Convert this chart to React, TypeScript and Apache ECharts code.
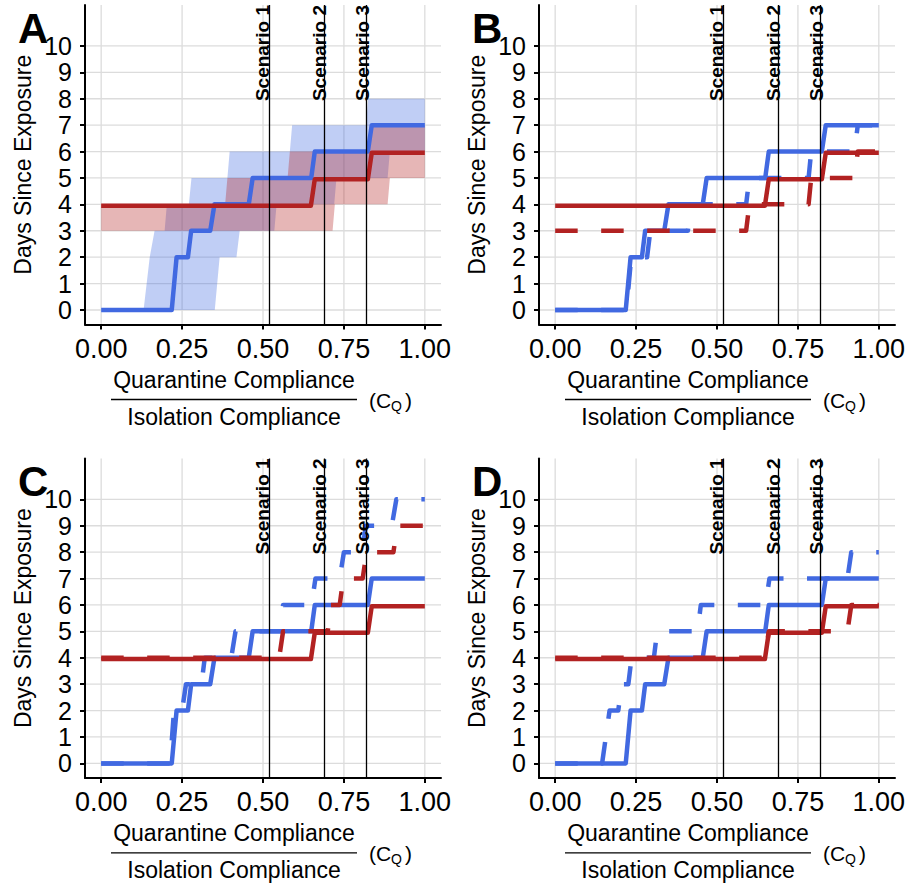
import React, { useEffect, useRef } from 'react';
import * as echarts from 'echarts';

// ---------- data ----------
const xTicks = [0, 0.25, 0.5, 0.75, 1];
const yTicks = [0, 1, 2, 3, 4, 5, 6, 7, 8, 9, 10];
const scenarioX = [0.516, 0.691, 0.825];
const scenarioLabels = ['Scenario 1', 'Scenario 2', 'Scenario 3'];
const panelLetters = ['A', 'B', 'C', 'D'];

// solid lines (same model in every panel)
const blueSolid = [
  [0, 0], [0.218, 0], [0.233, 2], [0.268, 2], [0.278, 3], [0.337, 3], [0.35, 4],
  [0.456, 4], [0.468, 5], [0.649, 5], [0.66, 6], [0.824, 6], [0.836, 7], [1, 7],
];
const redSolid = [
  [0, 3.95], [0.648, 3.95], [0.66, 4.95], [0.824, 4.95], [0.836, 5.95], [1, 5.95],
];

// panel A ribbons
const blueUpperA = [
  [0, 0], [0.131, 0], [0.15, 2], [0.165, 3], [0.196, 3], [0.203, 4], [0.271, 4], [0.279, 5],
  [0.39, 5], [0.397, 6], [0.583, 6], [0.59, 7], [0.818, 7], [0.825, 8], [1, 8],
];
const blueLowerA = [
  [0, 0], [0.351, 0], [0.366, 2], [0.418, 2], [0.428, 3], [0.535, 3], [0.542, 4],
  [0.72, 4], [0.727, 5], [0.885, 5], [0.892, 6], [1, 6],
];
const redUpperA = [
  [0, 4], [0.383, 4], [0.39, 5], [0.576, 5], [0.583, 6], [0.823, 6], [0.83, 7], [1, 7],
];
const redLowerA = [
  [0, 3], [0.715, 3], [0.722, 4], [0.885, 4], [0.892, 5], [1, 5],
];

// panel B dashed
const blueDashedB = [
  [0, 0], [0.22, 0], [0.235, 2], [0.284, 2], [0.294, 3], [0.41, 3], [0.42, 4], [0.59, 4],
  [0.6, 5], [0.783, 5], [0.791, 6], [0.925, 6], [0.935, 7], [1, 7],
];
const redDashedB = [
  [0, 3], [0.59, 3], [0.6, 4], [0.783, 4], [0.791, 5], [0.925, 5], [0.935, 6], [1, 6],
];

// panel C dashed
const blueDashedC = [
  [0, 0], [0.213, 0], [0.225, 2], [0.25, 2], [0.262, 3], [0.31, 3], [0.32, 4], [0.402, 4],
  [0.415, 5], [0.553, 5], [0.562, 6], [0.65, 6], [0.662, 7], [0.737, 7], [0.75, 8],
  [0.806, 8], [0.818, 9], [0.898, 9], [0.912, 10], [1, 10],
];
const redDashedC = [
  [0, 4], [0.55, 4], [0.562, 5], [0.7, 5], [0.71, 6], [0.737, 6], [0.748, 7], [0.808, 7],
  [0.82, 8], [0.903, 8], [0.915, 9], [1, 9],
];

// panel D dashed
const blueDashedD = [
  [0, 0], [0.145, 0], [0.168, 2], [0.195, 2], [0.205, 3], [0.226, 3], [0.236, 4], [0.305, 4],
  [0.315, 5], [0.44, 5], [0.45, 6], [0.65, 6], [0.662, 7], [0.903, 7], [0.915, 8], [1, 8],
];
const redDashedD = [
  [0, 4], [0.648, 4], [0.66, 5], [0.903, 5], [0.915, 6], [1, 6],
];

// ---------- style / layout ----------
const FONT = 'Liberation Sans, Arial, Helvetica, sans-serif';
const BLUE = '#4169E1';
const RED = '#B22222';
const BLUE_FILL = 'rgba(65,105,225,0.33)';
const RED_FILL = 'rgba(178,34,34,0.33)';
const GRID_COLOR = '#DCDCDC';
const X_MIN = -0.05;
const X_MAX = 1.05;
const Y_MIN = -0.55;
const Y_MAX = 11.55;
const DASH = [22.5, 23.5];

const grids = [
  { left: 85, top: 5, width: 356, height: 319.5 },
  { left: 539, top: 5, width: 356, height: 319.5 },
  { left: 85, top: 458.4, width: 356, height: 319.5 },
  { left: 539, top: 458.4, width: 356, height: 319.5 },
];

function gridSeries(i: number) {
  return {
    type: 'custom',
    xAxisIndex: i,
    yAxisIndex: i,
    silent: true,
    z: 1,
    data: [[0, 0]],
    renderItem: (params: any, api: any) => {
      const cs = params.coordSys;
      const children: any[] = [];
      xTicks.forEach((t) => {
        const px = api.coord([t, 0])[0];
        children.push({
          type: 'line',
          shape: { x1: px, y1: cs.y, x2: px, y2: cs.y + cs.height },
          style: { stroke: GRID_COLOR, lineWidth: 1.3 },
        });
      });
      yTicks.forEach((t) => {
        const py = api.coord([0, t])[1];
        children.push({
          type: 'line',
          shape: { x1: cs.x, y1: py, x2: cs.x + cs.width, y2: py },
          style: { stroke: GRID_COLOR, lineWidth: 1.3 },
        });
      });
      return { type: 'group', children };
    },
  };
}

function ribbonSeries(upper: number[][], lower: number[][], fill: string, i: number) {
  return {
    type: 'custom',
    xAxisIndex: i,
    yAxisIndex: i,
    silent: true,
    data: [[0, 0]],
    renderItem: (_params: any, api: any) => {
      const pts = upper
        .map((p) => api.coord(p))
        .concat(lower.slice().reverse().map((p) => api.coord(p)));
      return { type: 'polygon', shape: { points: pts }, style: { fill } };
    },
  };
}

function lineSeries(data: number[][], color: string, dashed: boolean, i: number, withScenario = false) {
  const s: any = {
    type: 'line',
    xAxisIndex: i,
    yAxisIndex: i,
    data,
    symbol: 'none',
    showSymbol: false,
    silent: true,
    lineStyle: { color, width: 4.5, type: dashed ? DASH : 'solid', cap: 'butt', join: 'round' },
    emphasis: { disabled: true },
  };
  if (withScenario) {
    s.markLine = {
      silent: true,
      symbol: ['none', 'none'],
      label: { show: false },
      lineStyle: { color: '#000', width: 1.3, type: 'solid' },
      emphasis: { disabled: true },
      data: scenarioX.map((x) => ({ xAxis: x })),
    };
  }
  return s;
}

export default function App() {
  const ref = useRef<HTMLDivElement>(null);

  useEffect(() => {
    if (!ref.current) return;
    const chart = echarts.init(ref.current, null, { renderer: 'svg' });

    const series: any[] = [];
    for (let i = 0; i < 4; i++) series.push(gridSeries(i));
    // Panel A
    series.push(ribbonSeries(blueUpperA, blueLowerA, BLUE_FILL, 0));
    series.push(lineSeries(blueSolid, BLUE, false, 0));
    series.push(ribbonSeries(redUpperA, redLowerA, RED_FILL, 0));
    series.push(lineSeries(redSolid, RED, false, 0, true));
    // Panels B-D
    const dashedSets = [
      [blueDashedB, redDashedB],
      [blueDashedC, redDashedC],
      [blueDashedD, redDashedD],
    ];
    dashedSets.forEach(([b, r], k) => {
      const i = k + 1;
      series.push(lineSeries(blueSolid, BLUE, false, i));
      series.push(lineSeries(b, BLUE, true, i));
      series.push(lineSeries(redSolid, RED, false, i));
      series.push(lineSeries(r, RED, true, i, true));
    });

    const option: any = {
      animation: false,
      backgroundColor: '#ffffff',
      textStyle: { fontFamily: FONT },
      grid: grids.map((g) => ({
        left: g.left,
        top: g.top,
        width: g.width,
        height: g.height,
        containLabel: false,
        outerBoundsMode: 'none',
      })),
      xAxis: grids.map((_g, i) => ({
        type: 'value',
        gridIndex: i,
        min: X_MIN,
        max: X_MAX,
        z: 3,
        axisLine: { show: true, onZero: false, lineStyle: { color: '#000', width: 2 } },
        axisTick: { show: true, length: 5, lineStyle: { color: '#000', width: 2 }, customValues: xTicks },
        axisLabel: {
          show: true,
          customValues: xTicks,
          formatter: (v: number) => v.toFixed(2),
          fontSize: 27,
          color: '#000',
          margin: 11,
          fontFamily: FONT,
        },
        splitLine: { show: false },
      })),
      yAxis: grids.map((_g, i) => ({
        type: 'value',
        gridIndex: i,
        min: Y_MIN,
        max: Y_MAX,
        z: 3,
        name: 'Days Since Exposure',
        nameLocation: 'middle',
        nameGap: 51,
        nameMoveOverlap: false,
        nameTextStyle: { fontSize: 23, color: '#000', fontFamily: FONT },
        axisLine: { show: true, onZero: false, lineStyle: { color: '#000', width: 2 } },
        axisTick: { show: true, length: 5, lineStyle: { color: '#000', width: 2 }, customValues: yTicks },
        axisLabel: {
          show: true,
          customValues: yTicks,
          fontSize: 25,
          color: '#000',
          margin: 13,
          fontFamily: FONT,
        },
        splitLine: { show: false },
      })),
      series,
    };

    chart.setOption(option);

    const graphic: any[] = [];
    grids.forEach((g, i) => {
      const bottom = g.top + g.height;
      const L = g.left;
      // panel letter
      graphic.push({
        type: 'text',
        x: L - 67,
        y: g.top + 2,
        z: 10,
        style: { text: panelLetters[i], fontSize: 42, fontWeight: 'bold', fill: '#000', fontFamily: FONT, verticalAlign: 'top', align: 'left' },
      });
      // scenario labels
      scenarioX.forEach((sx, j) => {
        const px = chart.convertToPixel({ xAxisIndex: i } as any, sx) as unknown as number;
        graphic.push({
          type: 'text',
          x: px + 4,
          y: g.top,
          rotation: Math.PI / 2,
          z: 10,
          style: {
            text: scenarioLabels[j],
            fontSize: 19,
            fontWeight: 'bold',
            fill: '#000',
            fontFamily: FONT,
            align: 'right',
            verticalAlign: 'bottom',
          },
        });
      });
      // x axis title (fraction)
      graphic.push({
        type: 'text',
        x: L + 149,
        y: bottom + 55,
        z: 10,
        style: { text: 'Quarantine Compliance', fontSize: 23, fill: '#000', fontFamily: FONT, align: 'center', verticalAlign: 'middle' },
      });
      graphic.push({
        type: 'line',
        z: 10,
        shape: { x1: L + 26, y1: bottom + 75, x2: L + 272, y2: bottom + 75 },
        style: { stroke: '#000', lineWidth: 1.3 },
      });
      graphic.push({
        type: 'text',
        x: L + 149,
        y: bottom + 92,
        z: 10,
        style: { text: 'Isolation Compliance', fontSize: 23, fill: '#000', fontFamily: FONT, align: 'center', verticalAlign: 'middle' },
      });
      graphic.push({
        type: 'text',
        x: L + 284,
        y: bottom + 76,
        z: 10,
        style: { text: '(C', fontSize: 21, fill: '#000', fontFamily: FONT, align: 'left', verticalAlign: 'middle' },
      });
      graphic.push({
        type: 'text',
        x: L + 306,
        y: bottom + 81,
        z: 10,
        style: { text: 'Q', fontSize: 14, fill: '#000', fontFamily: FONT, align: 'left', verticalAlign: 'middle' },
      });
      graphic.push({
        type: 'text',
        x: L + 320,
        y: bottom + 76,
        z: 10,
        style: { text: ')', fontSize: 21, fill: '#000', fontFamily: FONT, align: 'left', verticalAlign: 'middle' },
      });
    });

    chart.setOption({ graphic });

    return () => {
      chart.dispose();
    };
  }, []);

  return (
    <div
      ref={ref}
      style={{ position: 'absolute', left: 0, top: 0, width: 911, height: 883, background: '#fff' }}
    />
  );
}
